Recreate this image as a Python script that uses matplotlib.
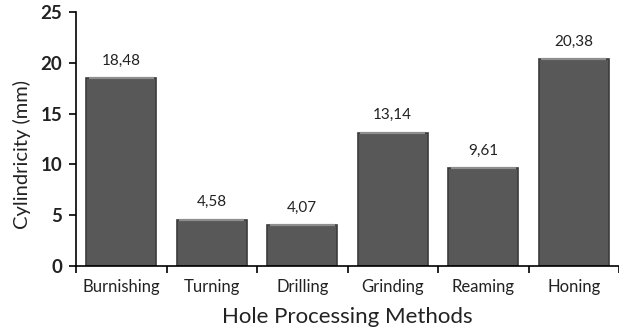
import numpy as np
import matplotlib
matplotlib.use('Agg')
import matplotlib.pyplot as plt

plt.rcParams['font.family'] = ['Lato', 'DejaVu Sans']

# Cylindricity by hole processing method
methods = ['Burnishing', 'Turning', 'Drilling', 'Grinding', 'Reaming', 'Honing']
cylindricity = [18.48, 4.58, 4.07, 13.14, 9.61, 20.38]
value_labels = ['18,48', '4,58', '4,07', '13,14', '9,61', '20,38']
y_ticks = [0, 5, 10, 15, 20, 25]

fig = plt.figure(figsize=(6.19, 3.31), dpi=100)
ax = fig.add_axes([0.1228, 0.196, 0.8772, 0.768])

x = np.arange(len(methods))
bars = ax.bar(x, cylindricity, width=0.77, color='#585858', edgecolor='#3c3c3c', linewidth=1.2, zorder=2)

# light top edge to give the bars a bevelled look
ax.hlines(cylindricity, x - 0.36, x + 0.36, colors='#8e8e8e', linewidth=1.6, zorder=3)

for xi, v, lab in zip(x, cylindricity, value_labels):
    ax.text(xi, v + 1.0, lab, ha='center', va='bottom', fontsize=11, color='#222222')

ax.set_xlim(-0.5, len(methods) - 0.5)
ax.set_ylim(0, 25)
ax.set_yticks(y_ticks)
ax.set_yticklabels([str(t) for t in y_ticks], fontsize=13.5, fontweight='bold', color='#222222')
ax.set_xticks(x)
ax.set_xticklabels(methods, fontsize=12, color='#222222')
ax.tick_params(axis='x', length=0, pad=9)
ax.tick_params(axis='y', length=5, width=1.2, direction='out', pad=5)

# tick marks between categories
ax.set_xticks(np.arange(len(methods) + 1) - 0.5, minor=True)
ax.tick_params(axis='x', which='minor', length=5, width=1.2, direction='out')

for side in ['top', 'right']:
    ax.spines[side].set_visible(False)
ax.spines['left'].set_linewidth(1.2)
ax.spines['bottom'].set_linewidth(1.2)

ax.set_ylabel('Cylindricity (mm)', fontsize=14.5, color='#222222')
ax.yaxis.set_label_coords(-0.083, 0.44)
ax.set_xlabel('Hole Processing Methods', fontsize=16, color='#222222', labelpad=9)

fig.savefig('out.png', dpi=100)
